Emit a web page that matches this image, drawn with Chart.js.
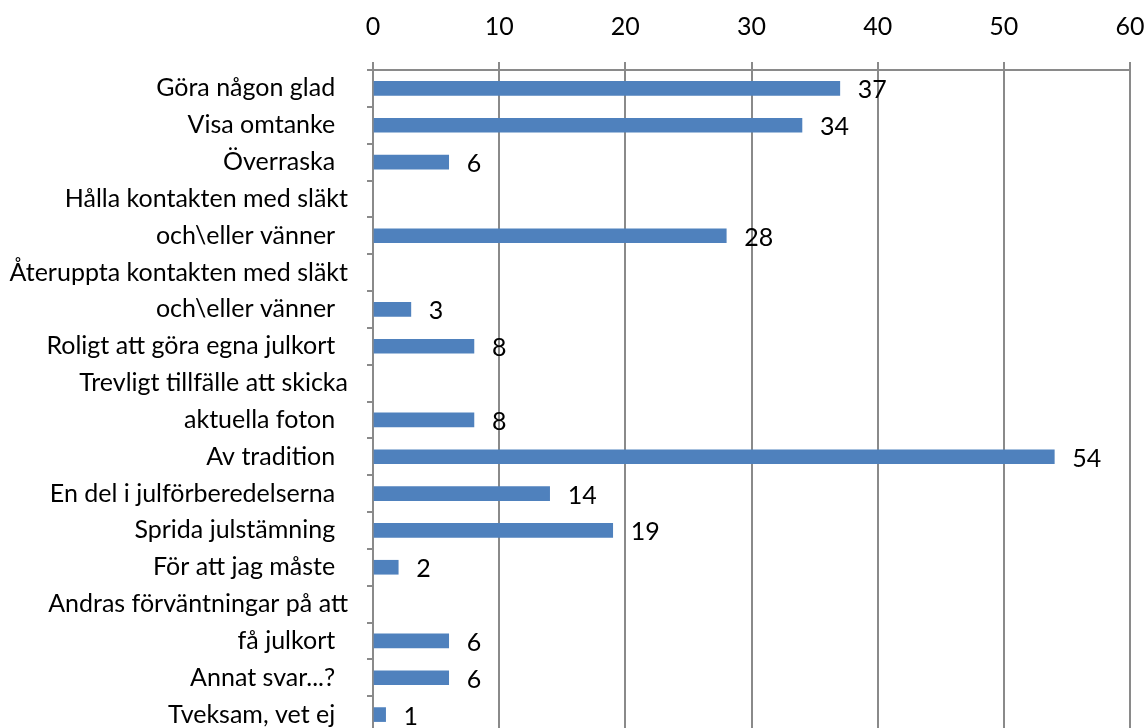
<!DOCTYPE html>
<html>
<head>
<meta charset="utf-8">
<script src="https://cdn.jsdelivr.net/npm/chart.js@4"></script>
<style>
  html, body { margin: 0; padding: 0; background: #fff; overflow: hidden; }
  #wrap { width: 1148px; height: 740px; }
</style>
</head>
<body>
<div id="wrap"><canvas id="grafico" width="1148" height="740"></canvas></div>
<script>
// categorias (las filas de dos lineas son dos categorias en el original)
const categorias = [
    'Göra någon glad  ',
    'Visa omtanke  ',
    'Överraska  ',
    'Hålla kontakten med släkt',
    'och\\eller vänner  ',
    'Återuppta kontakten med släkt',
    'och\\eller vänner  ',
    'Roligt att göra egna julkort  ',
    'Trevligt tillfälle att skicka',
    'aktuella foton  ',
    'Av tradition  ',
    'En del i julförberedelserna  ',
    'Sprida julstämning  ',
    'För att jag måste  ',
    'Andras förväntningar på att',
    'få julkort  ',
    'Annat svar...?  ',
    'Tveksam, vet ej  '
];
const valores = [37, 34, 6, null, 28, null, 3, 8, null, 8, 54, 14, 19, 2, null, 6, 6, 1];
const ticksX = [0, 10, 20, 30, 40, 50, 60];

const fuente = "Lato, 'Open Sans', sans-serif";
const tamano = 25;
const gris = '#8a8a8a';

// etiquetas de valor a la derecha de cada barra
const etiquetasValor = {
    id: 'etiquetasValor',
    afterDatasetsDraw(chart) {
        const ctx = chart.ctx;
        const meta = chart.getDatasetMeta(0);
        ctx.save();
        ctx.fillStyle = '#000';
        ctx.font = tamano + 'px ' + fuente;
        ctx.textAlign = 'left';
        ctx.textBaseline = 'middle';
        meta.data.forEach((barra, i) => {
            const v = valores[i];
            if (v === null) return;
            ctx.fillText(String(v), barra.x + 18, barra.y + 2);
        });
        ctx.restore();
    }
};

const ctx = document.getElementById('grafico').getContext('2d');
const chart = new Chart(ctx, {
    type: 'bar',
    data: {
        labels: categorias,
        datasets: [{
            data: valores,
            backgroundColor: '#4F81BD',
            borderWidth: 0,
            barThickness: 14
        }]
    },
    options: {
        indexAxis: 'y',
        responsive: false,
        animation: false,
        layout: { padding: { left: 0, right: 18, top: 0, bottom: 7 } },
        plugins: {
            legend: { display: false },
            tooltip: { enabled: false }
        },
        scales: {
            x: {
                position: 'top',
                min: 0,
                max: 60,
                afterBuildTicks: (scale) => { scale.ticks = ticksX.map(v => ({ value: v })); },
                afterFit: (scale) => {
                    scale.height = 70;
                    scale.paddingLeft = 0;
                    scale.paddingRight = 0;
                },
                ticks: {
                    color: '#000',
                    font: { size: tamano, family: fuente },
                    padding: 20
                },
                grid: { color: gris, lineWidth: 2, tickLength: 8 },
                border: { color: gris, width: 2 }
            },
            y: {
                afterFit: (scale) => {
                    scale.width = 373;
                    scale.paddingTop = 0;
                    scale.paddingBottom = 0;
                },
                ticks: {
                    color: '#000',
                    font: { size: tamano, family: fuente },
                    padding: 19,
                    autoSkip: false
                },
                grid: { drawOnChartArea: false, color: gris, lineWidth: 2, tickLength: 6 },
                border: { color: gris, width: 2 }
            }
        }
    },
    plugins: [etiquetasValor]
});
</script>
</body>
</html>
